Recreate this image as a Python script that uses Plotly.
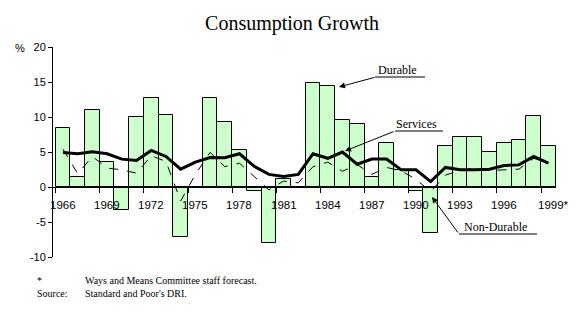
import plotly.graph_objects as go

years = list(range(1966, 2000))
durable = [8.4, 1.5, 11.0, 3.55, -3.35, 10.0, 12.75, 10.3, -7.1, 0.0,
           12.75, 9.3, 5.3, -0.6, -8.05, 1.1, -0.15, 14.8, 14.5, 9.6,
           9.0, 1.45, 6.3, 2.45, -0.6, -6.5, 5.85, 7.15, 7.15, 5.0,
           6.3, 6.75, 10.2, 5.85]
services = [4.94, 4.75, 5.04, 4.75, 3.98, 3.8, 5.23, 4.36, 2.55, 3.55,
            4.2, 4.17, 4.75, 2.95, 1.8, 1.5, 1.8, 4.75, 4.1, 5.0,
            3.26, 4.0, 4.0, 2.45, 2.45, 0.77, 2.8, 2.45, 2.45, 2.55,
            3.07, 3.16, 4.36, 3.4]
non_durable = [5.4, 1.9, 4.36, 2.7, 2.45, 1.97, 4.46, 3.65, -2.0, 1.8,
               4.94, 2.9, 3.4, 1.5, -0.4, 0.85, 0.6, 2.9, 3.55, 2.25,
               3.2, 1.8, 2.8, 2.3, 1.1, -0.67, 1.7, 2.35, 2.7, 2.35,
               2.45, 2.55, 4.1, 3.4]
label_years = [1966, 1969, 1972, 1975, 1978, 1981, 1984, 1987, 1990, 1993, 1996, 1999]
label_texts = ["1966", "1969", "1972", "1975", "1978", "1981", "1984", "1987",
               "1990", "1993", "1996", "1999*"]
y_ticks = [-10, -5, 0, 5, 10, 15, 20]
y_tick_texts = ["-10", "-5", "0", "5", "10", "15", "20"]

W, H = 581, 325
ML, MR, MT, MB = 53, 25, 47, 68
PW, PH = W - ML - MR, H - MT - MB
XR = [1965.32, 1999.52]
YR = [-10, 20]


def px2x(px):
    return XR[0] + (px - ML) / PW * (XR[1] - XR[0])


def px2y(py):
    return YR[1] - (py - MT) / PH * (YR[1] - YR[0])


def ppx(px):
    return (px - ML) / PW


def ppy(py):
    return 1 - (py - MT) / PH


fig = go.Figure()
fig.add_trace(go.Bar(x=years, y=durable, width=1,
                     marker=dict(color="#CCFFCC", line=dict(color="black", width=1)),
                     name="Durable"))
fig.add_trace(go.Scatter(x=years, y=non_durable, mode="lines",
                         line=dict(color="black", width=1, dash="dash"),
                         name="Non-Durable"))
fig.add_trace(go.Scatter(x=years, y=services, mode="lines",
                         line=dict(color="black", width=3),
                         name="Services"))

sans = dict(family="Liberation Sans, Arial", size=11, color="black")
xsans = dict(family="Liberation Sans, Arial", size=11.5, color="black")
serif = dict(family="Liberation Serif, Times New Roman", size=12, color="black")
foot = dict(family="Liberation Serif, Times New Roman", size=10, color="black")

annotations = []
for yv, t in zip(label_years, label_texts):
    annotations.append(dict(x=yv, y=0, xref="x", yref="y", text=t, showarrow=False,
                            yanchor="top", yshift=-10, xshift=(5 if t.endswith("*") else 0),
                            font=xsans))

annotations.append(dict(x=ppx(20), y=ppy(48), xref="paper", yref="paper", text="%",
                        showarrow=False, xanchor="center", yanchor="middle", font=sans))

# callout labels
for txt, cx, cy in [("Durable", 397, 70), ("Services", 416, 124), ("Non-Durable", 495, 227)]:
    annotations.append(dict(x=px2x(cx), y=px2y(cy), xref="x", yref="y", text=txt,
                            showarrow=False, font=serif))

# callout arrows
for tail, head in [((376, 77), (339, 87)), ((395, 131), (345, 151)), ((459, 234), (432, 197))]:
    annotations.append(dict(x=px2x(head[0]), y=px2y(head[1]), xref="x", yref="y",
                            ax=px2x(tail[0]), ay=px2y(tail[1]), axref="x", ayref="y",
                            text="", showarrow=True, arrowhead=2, arrowsize=1.2,
                            arrowwidth=1, arrowcolor="black", standoff=0))

for txt, fx, fy in [("*", 35, 280), ("Ways and Means Committee staff forecast.", 83, 280),
                    ("Source:", 35, 293), ("Standard and Poor's DRI.", 83, 293)]:
    annotations.append(dict(x=ppx(fx), y=ppy(fy), xref="paper", yref="paper", text=txt,
                            showarrow=False, xanchor="left", yanchor="middle", font=foot))

shapes = []
for x0, x1, yy in [(375, 425, 77), (395, 443, 131), (459, 537, 234)]:
    shapes.append(dict(type="line", xref="x", yref="y",
                       x0=px2x(x0), x1=px2x(x1), y0=px2y(yy), y1=px2y(yy),
                       line=dict(color="black", width=1)))

fig.update_layout(
    width=W, height=H,
    margin=dict(l=ML, r=MR, t=MT, b=MB, pad=0),
    paper_bgcolor="white", plot_bgcolor="white",
    showlegend=False, bargap=0,
    title=dict(text="Consumption Growth", x=292 / W, xanchor="center",
               y=1 - 23 / H, yanchor="middle",
               font=dict(family="Liberation Serif, Times New Roman", size=20, color="black")),
    xaxis=dict(range=XR, showgrid=False, zeroline=False,
               showline=True, linecolor="black", linewidth=1,
               anchor="free", position=(0 - YR[0]) / (YR[1] - YR[0]),
               tickmode="array", tickvals=[v - 0.5 for v in label_years],
               ticks="outside", ticklen=5, tickcolor="black", showticklabels=False),
    yaxis=dict(range=YR, showgrid=False, zeroline=False,
               showline=True, linecolor="black", linewidth=1,
               tickmode="array", tickvals=y_ticks, ticktext=y_tick_texts,
               ticks="outside", ticklen=4, tickcolor="black", tickfont=sans),
    annotations=annotations,
    shapes=shapes,
)

fig.write_html("out.html")
